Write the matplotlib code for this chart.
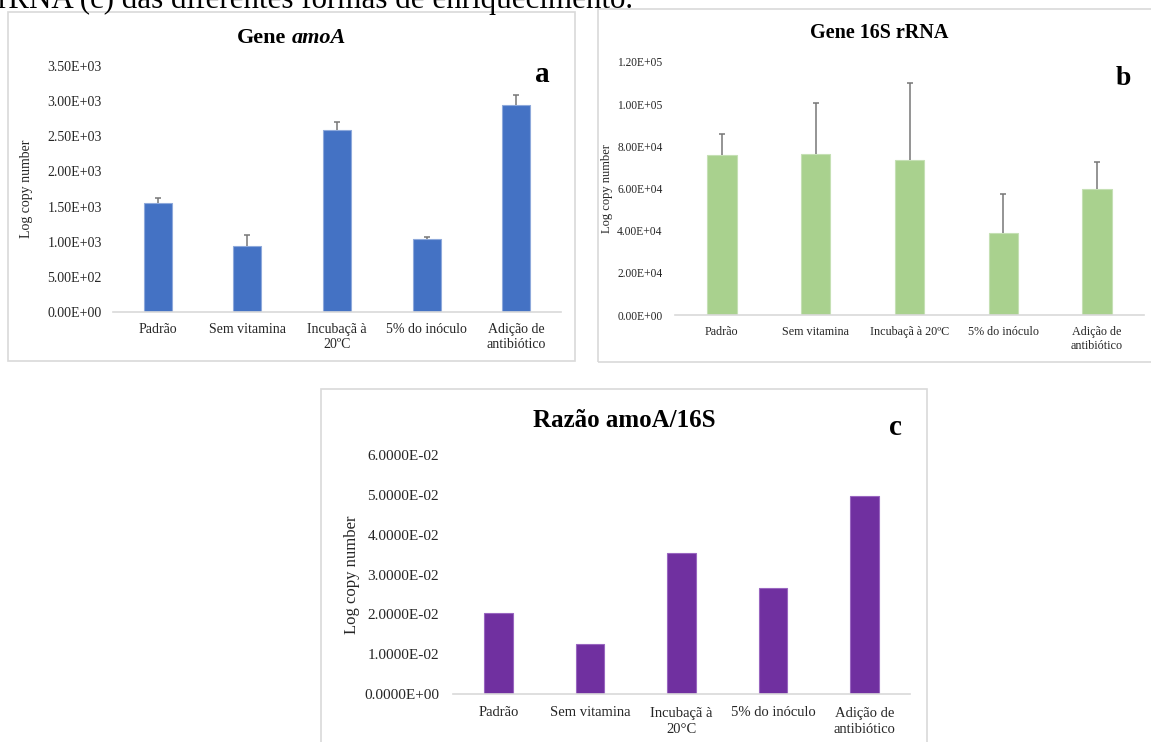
import matplotlib
matplotlib.use("Agg")
import matplotlib.pyplot as plt
from matplotlib.patches import Rectangle
from matplotlib.ticker import FixedLocator, FuncFormatter

plt.rcParams["font.family"] = ["Liberation Serif", "DejaVu Serif"]

# ---- data ----
labels_a = ["Padrão", "Sem vitamina", "Incubaçã à\n20ºC", "5% do inóculo", "Adição de\nantibiótico"]
labels_b = ["Padrão", "Sem vitamina", "Incubaçã à 20ºC", "5% do inóculo", "Adição de\nantibiótico"]
labels_c = ["Padrão", "Sem vitamina", "Incubaçã à\n20°C", "5% do inóculo", "Adição de\nantibiótico"]

amoA_values = [1550, 940, 2590, 1040, 2950]
amoA_errors = [70, 155, 110, 25, 140]

rrna16s_values = [76000, 76200, 73500, 39000, 59600]
rrna16s_errors = [10000, 24500, 36400, 18300, 12800]

ratio_values = [0.0204, 0.0125, 0.0354, 0.0266, 0.0498]

ticks_a = [0, 500, 1000, 1500, 2000, 2500, 3000, 3500]
ticks_b = [0, 20000, 40000, 60000, 80000, 100000, 120000]
ticks_c = [0, 0.01, 0.02, 0.03, 0.04, 0.05, 0.06]

W, H = 1151, 742
fig = plt.figure(figsize=(W / 100, H / 100), dpi=100)


def fx(x):
    return x / W


def fy(y):
    return 1 - y / H


def axes_px(x0, x1, ytop, ybot):
    return fig.add_axes([fx(x0), fy(ybot), (x1 - x0) / W, (ybot - ytop) / H])


def frame(x0, y0, x1, y1):
    fig.patches.append(Rectangle((fx(x0), fy(y1)), (x1 - x0) / W, (y1 - y0) / H,
                                 transform=fig.transFigure, fill=False,
                                 edgecolor="#d9d9d9", linewidth=1.2, zorder=-1))


def style_axes(ax, ticks, fmt, tick_fs, ypad, xpad, label_fs, label_x):
    for side in ("top", "right", "left"):
        ax.spines[side].set_visible(False)
    ax.spines["bottom"].set_color("#d9d9d9")
    ax.spines["bottom"].set_linewidth(1.2)
    ax.set_ylim(ticks[0], ticks[-1])
    ax.yaxis.set_major_locator(FixedLocator(ticks))
    ax.yaxis.set_major_formatter(FuncFormatter(lambda v, p: fmt.format(v)))
    ax.tick_params(axis="both", length=0, colors="#262626")
    ax.tick_params(axis="y", labelsize=tick_fs, pad=ypad)
    ax.tick_params(axis="x", pad=xpad)
    ax.set_ylabel("Log copy number", fontsize=label_fs, color="#262626", va="center")
    ax.yaxis.set_label_coords(label_x, 0.5)
    ax.set_xlim(-0.5, 4.5)


def bars_with_err(ax, values, errors, color, edge):
    x = range(len(values))
    ax.bar(x, values, width=0.313, color=color, edgecolor=edge, linewidth=0.8, zorder=2)
    if errors is not None:
        _, caps, _ = ax.errorbar(x, values, yerr=[[0] * len(errors), errors], fmt="none",
                                 ecolor="#767676", elinewidth=1.1, capsize=2.3,
                                 capthick=1.1, zorder=3)
        caps[0].set_visible(False)


# ---- panel frames ----
frame(8, 12, 575, 361)
frame(598, 9, 1160, 362)
frame(321, 389, 927, 750)

# ---- panel a: amoA ----
ax_a = axes_px(113, 561, 66, 312)
bars_with_err(ax_a, amoA_values, amoA_errors, "#4472C4", "#8EA9DB")
ax_a.set_xticks(range(5))
ax_a.set_xticklabels(labels_a, fontsize=10, linespacing=1.2)
style_axes(ax_a, ticks_a, "{:.2E}", 10, 8, 8, 10, -0.192)
fig.text(fx(286), fy(43), "Gene", ha="right", va="baseline", fontsize=16, fontweight="bold")
fig.text(fx(292), fy(43), "amoA", ha="left", va="baseline", fontsize=16,
         fontweight="bold", fontstyle="italic")
fig.text(fx(542), fy(82), "a", ha="center", va="baseline", fontsize=21, fontweight="bold")

# ---- panel b: 16S rRNA ----
ax_b = axes_px(675, 1144, 62, 315)
bars_with_err(ax_b, rrna16s_values, rrna16s_errors, "#A9D18E", "#C5E0B4")
ax_b.set_xticks(range(5))
ax_b.set_xticklabels(labels_b, fontsize=8.7, linespacing=1.25)
style_axes(ax_b, ticks_b, "{:.2E}", 8.3, 9, 8, 9, -0.145)
fig.text(fx(879), fy(38), "Gene 16S rRNA", ha="center", va="baseline", fontsize=14.5,
         fontweight="bold")
fig.text(fx(1123), fy(85), "b", ha="center", va="baseline", fontsize=20, fontweight="bold")

# ---- panel c: amoA/16S ratio ----
ax_c = axes_px(453, 910, 455, 694)
bars_with_err(ax_c, ratio_values, None, "#7030A0", "#9966C0")
ax_c.set_xticks(range(5))
ax_c.set_xticklabels(labels_c, fontsize=10.5, linespacing=1.35)
style_axes(ax_c, ticks_c, "{:.4E}", 11, 10, 9, 12, -0.221)
fig.text(fx(624), fy(427), "Razão amoA/16S", ha="center", va="baseline", fontsize=18,
         fontweight="bold")
fig.text(fx(895), fy(435), "c", ha="center", va="baseline", fontsize=21, fontweight="bold")

# ---- running caption line above the panels ----
fig.text(fx(-2), fy(8), "rRNA (c) das diferentes formas de enriquecimento.", ha="left",
         va="baseline", fontsize=22.3, color="black")

fig.savefig("out.png", dpi=100, facecolor="white")
